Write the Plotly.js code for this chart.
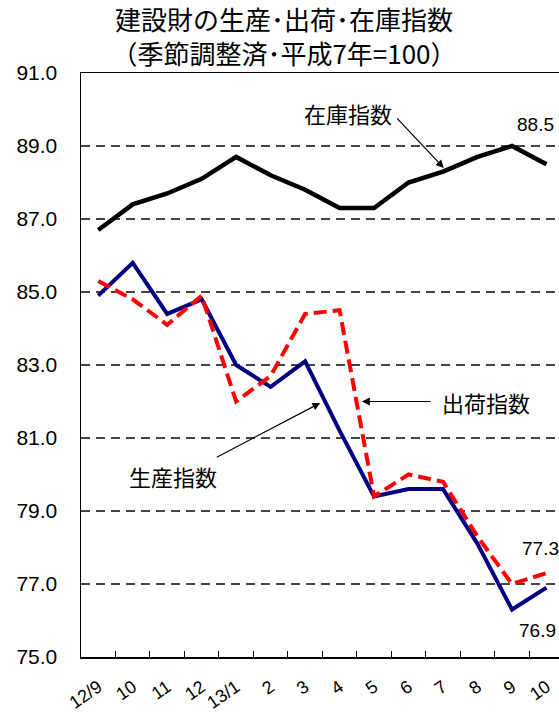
<!DOCTYPE html>
<html>
<head>
<meta charset="utf-8">
<script src="https://cdn.plot.ly/plotly-3.0.1.min.js"></script>
<style>html,body{margin:0;padding:0;background:#fff;}#chart{width:559px;height:715px;}</style>
</head>
<body>
<div id="chart"></div>
<script>
// ---- data ----
const months = ["12/9","10","11","12","13/1","2","3","4","5","6","7","8","9","10"];
const inventoryIndex  = [86.7, 87.4, 87.7, 88.1, 88.7, 88.2, 87.8, 87.3, 87.3, 88.0, 88.3, 88.7, 89.0, 88.5];
const productionIndex = [84.9, 85.8, 84.4, 84.8, 83.0, 82.4, 83.1, 81.2, 79.4, 79.6, 79.6, 78.1, 76.3, 76.9];
const shipmentIndex   = [85.3, 84.8, 84.1, 84.9, 82.0, 82.7, 84.4, 84.5, 79.4, 80.0, 79.8, 78.3, 77.0, 77.3];
const yTicks = [75, 77, 79, 81, 83, 85, 87, 89, 91];

const xIdx = months.map((_, i) => i);
const boundaries = months.slice(1).map((_, i) => i + 0.5);
const lastI = months.length - 1;

const numFont = "Liberation Sans, Arial, sans-serif";
const jpFont = "Noto Sans CJK JP, sans-serif";

const traces = [
  {x: xIdx, y: inventoryIndex, mode: "lines", line: {color: "#000000", width: 4.5}, hoverinfo: "skip", showlegend: false},
  {x: xIdx, y: productionIndex, mode: "lines", line: {color: "#000080", width: 4}, hoverinfo: "skip", showlegend: false},
  {x: xIdx, y: shipmentIndex, mode: "lines", line: {color: "#FF0000", width: 4, dash: "13px,6px"}, hoverinfo: "skip", showlegend: false}
];

const annotations = [
  // arrows (no text)
  {x: 10.02, y: 88.40, ax: -48, ay: -51, text: "", showarrow: true, arrowhead: 2, arrowsize: 1.3, arrowwidth: 1.2, arrowcolor: "#000"},
  {x: 7.65, y: 82.0, ax: 70, ay: 0, text: "", showarrow: true, arrowhead: 2, arrowsize: 1.3, arrowwidth: 1.2, arrowcolor: "#000"},
  {x: 6.44, y: 81.96, ax: -105, ay: 55, text: "", showarrow: true, arrowhead: 2, arrowsize: 1.3, arrowwidth: 1.2, arrowcolor: "#000"},
  // texts
  {x: 7.23, y: 89.91, text: "在庫指数", showarrow: false, font: {family: jpFont, size: 22, color: "#000"}},
  {x: 11.26, y: 82.0, text: "出荷指数", showarrow: false, font: {family: jpFont, size: 22, color: "#000"}},
  {x: 2.18, y: 79.97, text: "生産指数", showarrow: false, font: {family: jpFont, size: 22, color: "#000"}},
  {x: 12.68, y: 89.58, text: inventoryIndex[lastI].toFixed(1), showarrow: false, font: {family: numFont, size: 19, color: "#000"}},
  {x: 12.82, y: 77.97, text: shipmentIndex[lastI].toFixed(1), showarrow: false, font: {family: numFont, size: 19, color: "#000"}},
  {x: 12.75, y: 75.72, text: productionIndex[lastI].toFixed(1), showarrow: false, font: {family: numFont, size: 19, color: "#000"}}
];

const layout = {
  width: 559, height: 715,
  margin: {l: 81, r: 0, t: 73, b: 58, pad: 0},
  paper_bgcolor: "#ffffff", plot_bgcolor: "#ffffff",
  showlegend: false,
  title: {
    text: "建設財の生産･出荷･在庫指数<br>（季節調整済･平成7年=100）",
    font: {family: jpFont, size: 26, color: "#000"},
    x: 0.508, xanchor: "center", y: 0.958, yanchor: "top", yref: "container"
  },
  xaxis: {
    range: [-0.5, 13.364], fixedrange: true,
    tickmode: "array", tickvals: xIdx, ticktext: months,
    ticks: "", tickangle: -35, ticklabelstandoff: 11,
    tickfont: {family: numFont, size: 18, color: "#000"},
    showline: true, linecolor: "#000", linewidth: 1.5, mirror: true,
    showgrid: false, zeroline: false,
    minor: {tickmode: "array", tickvals: boundaries, ticks: "inside", ticklen: 6, tickcolor: "#000", tickwidth: 1, showgrid: false}
  },
  yaxis: {
    range: [75, 91], fixedrange: true,
    tickmode: "array", tickvals: yTicks, tickformat: ".1f",
    ticks: "", ticklabelstandoff: 18,
    tickfont: {family: numFont, size: 21, color: "#000"},
    showline: true, linecolor: "#000", linewidth: 1.5,
    showgrid: true, gridcolor: "#444444", gridwidth: 1.1, griddash: "9px,6px",
    zeroline: false
  },
  annotations: annotations
};

Plotly.newPlot("chart", traces, layout, {staticPlot: true, displayModeBar: false});
</script>
</body>
</html>
